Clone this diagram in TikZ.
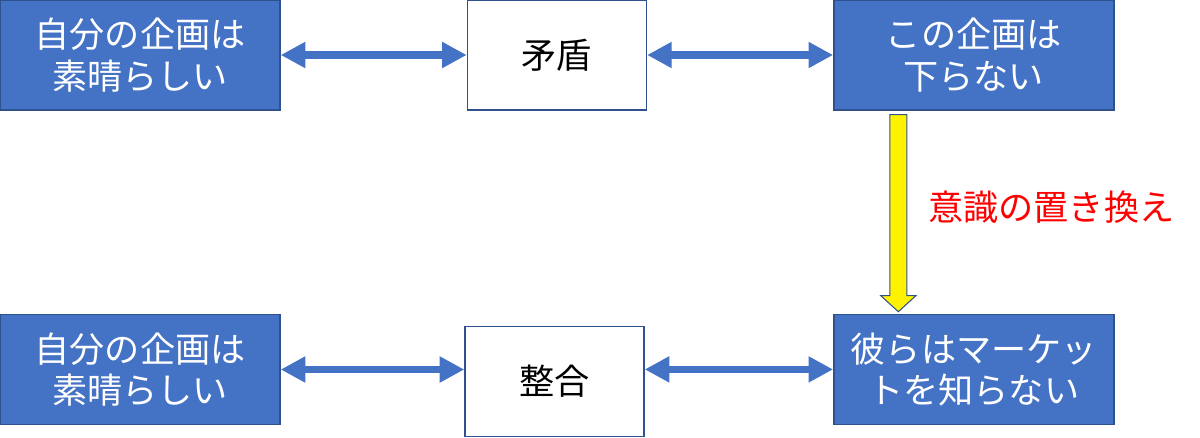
\documentclass[tikz,border=0pt]{standalone}
\usepackage{fontspec}
\setmainfont{Noto Sans CJK JP}
\usetikzlibrary{positioning,arrows.meta}

\definecolor{boxblue}{HTML}{4472C4}
\definecolor{edgeblue}{HTML}{2F528F}

\tikzset{
  idea/.style={draw=edgeblue, line width=0.8pt, fill=boxblue, text=white,
    minimum width=5.6cm, minimum height=2.2cm, align=center,
    font=\fontsize{20}{23.5}\selectfont},
  verdict/.style={idea, fill=white, text=black, minimum width=3.58cm},
  link/.style={boxblue, line width=4pt,
    {Triangle[length=14pt,width=14pt]}-{Triangle[length=14pt,width=14pt]}},
  shiftarrow/.style={draw=edgeblue, fill=yellow, line width=0.6pt, line join=miter},
}

\begin{document}
\begin{tikzpicture}[node distance=3.72cm]
  \useasboundingbox (0,0) rectangle (24,-8.74);

  % top row
  \node[idea] (mine) at (2.8,-1.1) {自分の企画は\\素晴らしい};
  \node[verdict, right=of mine] (clash) {矛盾};
  \node[idea, right=of clash] (theirs) {この企画は\\下らない};

  % bottom row
  \node[idea] (mine2) at (2.8,-7.39) {自分の企画は\\素晴らしい};
  \node[verdict] (fit) at (11.09,-7.63) {整合};
  \node[idea, below=4.06cm of theirs] (market) {彼らはマーケッ\\トを知らない};

  \draw[link] (mine) -- (clash);
  \draw[link] (clash) -- (theirs);
  \draw[link] (mine2.east) -- (mine2.east -| fit.west);
  \draw[link] (market.west -| fit.east) -- (market.west);

  % yellow block arrow
  \draw[shiftarrow] ([xshift=-1.68cm, yshift=-0.08cm]theirs.south)
    -- ++(0.34,0) -- ++(0,-3.62) -- ++(0.18,0) -- ++(-0.35,-0.32)
    -- ++(-0.35,0.32) -- ++(0.18,0) -- cycle;
  \node[anchor=west, text=red, font=\fontsize{20}{23.5}\selectfont, inner sep=0pt]
    (relabel) at (18.56,-4.14) {意識の置き換え};
\end{tikzpicture}
\end{document}
